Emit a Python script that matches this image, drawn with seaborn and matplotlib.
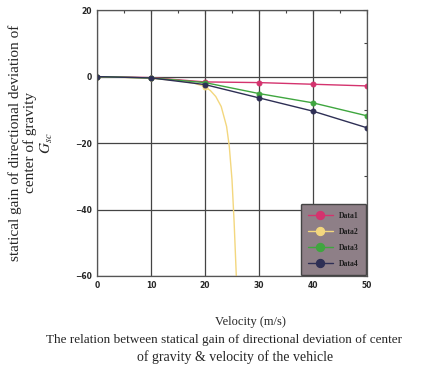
import matplotlib
matplotlib.use("Agg")
import matplotlib.pyplot as plt
import seaborn as sns
import pandas as pd
from matplotlib.ticker import MultipleLocator

sns.set_style("white")
plt.rcParams['font.family'] = ['Liberation Serif', 'DejaVu Serif']
plt.rcParams['mathtext.fontset'] = 'stix'

# Data
v1 = [0, 10, 20, 30, 40, 50]
g1 = [0, -0.3, -1.6, -1.8, -2.3, -2.8]

v2 = [0, 10, 15, 18, 20, 21, 22, 23, 24, 24.5, 25, 25.4, 25.8]
g2 = [0, -0.5, -1.2, -2.0, -3.0, -4.2, -6.0, -9.0, -15.0, -21.0, -31.0, -44.0, -60.0]

v3 = [0, 10, 20, 30, 40, 50]
g3 = [0, -0.4, -1.8, -5.1, -7.9, -11.8]

v4 = [0, 10, 20, 30, 40, 50]
g4 = [0, -0.4, -2.4, -6.4, -10.4, -15.4]

names = ["Data1", "Data2", "Data3", "Data4"]
colors = {"Data1": "#d4336e", "Data2": "#f3d77e", "Data3": "#3fa63f", "Data4": "#2e2f55"}

fig = plt.figure(figsize=(4.4, 3.76), dpi=100)
ax = fig.add_axes([0.2205, 0.266, 0.6135, 0.707])

series = [(v1, g1), (v2, g2), (v3, g3), (v4, g4)]
for name, (vx, gy) in zip(names, series):
    df = pd.DataFrame({"v": vx, "g": gy})
    kw = {}
    if name == "Data2":
        kw["markevery"] = [0, 1, 4]
    sns.lineplot(data=df, x="v", y="g", ax=ax, color=colors[name], marker="o",
                 markersize=3.5, linewidth=1.0, label=name,
                 markeredgecolor=colors[name], **kw)

ax.set_xlim(0, 50)
ax.set_ylim(-60, 20)
ax.xaxis.set_major_locator(MultipleLocator(10))
ax.xaxis.set_minor_locator(MultipleLocator(5))
ax.yaxis.set_major_locator(MultipleLocator(20))
ax.yaxis.set_minor_locator(MultipleLocator(10))
ax.grid(True, which="major", color="#444444", linewidth=0.9)
ax.tick_params(which="both", direction="in", top=True, right=True, labelsize=5.5,
               length=3, color="#444444", width=0.8)
ax.tick_params(which="minor", length=2)
for lab in ax.get_xticklabels() + ax.get_yticklabels():
    lab.set_fontweight("bold")
    lab.set_family(["DejaVu Sans"])
for s in ax.spines.values():
    s.set_color("#555555")
    s.set_linewidth(0.9)

ax.set_xlabel("")
ax.set_ylabel("")

leg = ax.legend(loc="lower right", fontsize=5.5, frameon=True, fancybox=True,
                facecolor="#8e7f87", edgecolor="#444444", framealpha=1,
                borderpad=1.0, labelspacing=1.05, handlelength=3.2,
                borderaxespad=0.1, markerscale=1.7)
for t in leg.get_texts():
    t.set_fontweight("bold")
    t.set_color("#1a1a1a")

fig.text(0.072, 0.62, "statical gain of directional deviation of\ncenter of gravity\n$G_{sc}$",
         rotation=90, ha="center", va="center", fontsize=11, linespacing=1.1)
fig.text(0.57, 0.143, "Velocity (m/s)", ha="center", va="center", fontsize=9)
fig.text(0.51, 0.096, "The relation between statical gain of directional deviation of center",
         ha="center", va="center", fontsize=9.5)
fig.text(0.535, 0.05, "of gravity & velocity of the vehicle",
         ha="center", va="center", fontsize=10)

fig.savefig("out.png", dpi=100)
